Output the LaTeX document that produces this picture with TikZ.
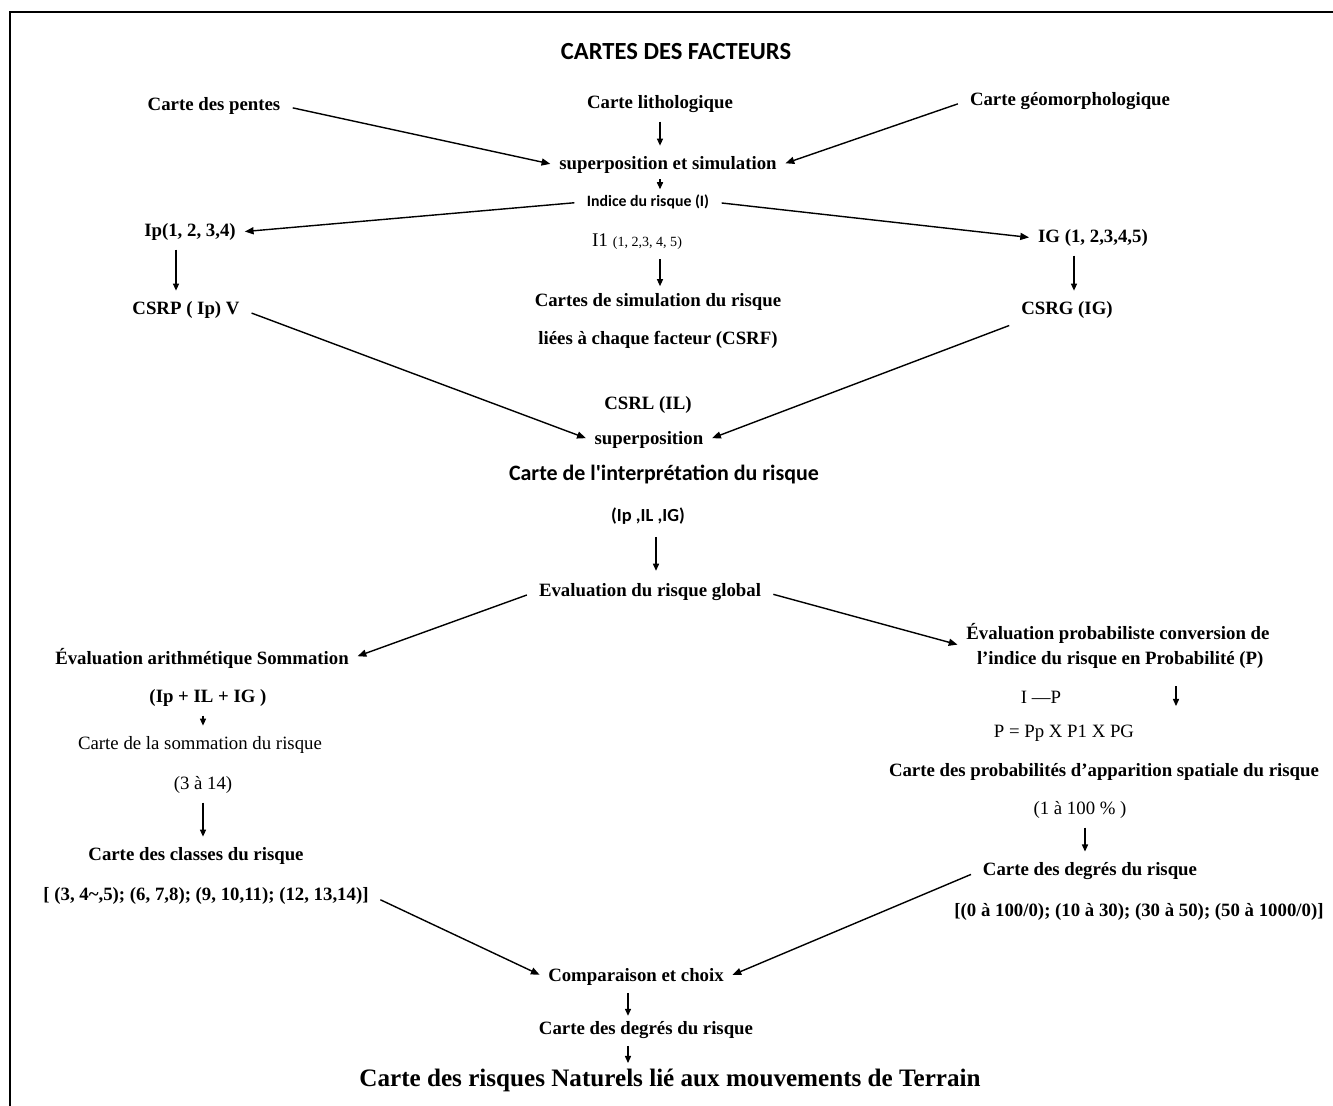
\documentclass[tikz,border=0pt]{standalone}
\usepackage{fontspec}
\setmainfont{Liberation Serif}
\newfontfamily\calib{Carlito}
\usetikzlibrary{arrows.meta}

\begin{document}
\begin{tikzpicture}[x=0.02cm, y=-0.02cm,
    lbl/.style={font=\fontsize{10.7}{13}\selectfont\bfseries, inner sep=2pt},
    rlbl/.style={font=\fontsize{10.7}{13}\selectfont, inner sep=2pt},
    slbl/.style={font=\calib\bfseries\fontsize{12.5}{15}\selectfont, inner sep=2pt},
    arr/.style={-{Triangle[length=5pt,width=4pt]}, line width=0.8pt, shorten <=5pt, shorten >=3pt},
    tarr/.style={-{Triangle[length=4pt,width=3.5pt]}, line width=0.6pt, shorten <=3pt, shorten >=4pt}]
        \useasboundingbox (0,0) rectangle (1333,1106);
        \draw [line width=1.6pt] (1340,12) -- (10,12) -- (10,1110);

        \node[slbl, font=\calib\bfseries\fontsize{14}{16}\selectfont] (titre) at (676,52) {CARTES DES FACTEURS};

        % cartes des facteurs
        \node[lbl] (pentes) at (214,106) {Carte des pentes};
        \node[lbl] (litho) at (660,104) {Carte lithologique};
        \node[lbl] (geomorph) at (1070,101) {Carte géomorphologique};
        \node[lbl] (superpos) at (668,165) {superposition et simulation};
        \node[slbl, font=\calib\bfseries\fontsize{9}{11}\selectfont] (indice) at (648,202) {Indice du risque (I)};

        \draw [arr] (pentes.east) -- (superpos.west);
        \draw [arr] (geomorph.west) -- (superpos.east);
        \draw [tarr] (litho.south) -- (superpos.north -| litho.south);
        \draw [tarr, shorten <=1pt, shorten >=1pt] (superpos.south -| litho.south) -- (indice.north -| litho.south);

        % indices par facteur
        \node[lbl] (ipnode) at (190,232) {Ip(1, 2, 3,4)};
        \node[lbl] (ignode) at (1093,238) {IG (1, 2,3,4,5)};
        \node[rlbl] (ione) at (637,242) {{\fontsize{11}{13}\selectfont I1} {\fontsize{8}{10}\selectfont (1, 2,3, 4, 5)}};
        \node[lbl, align=center, font=\fontsize{10.7}{21.6}\selectfont\bfseries] (csrf) at (658,321) {Cartes de simulation du risque\\liées à chaque facteur (CSRF)};

        \draw [arr] (indice.west) -- (ipnode.east);
        \draw [arr] (indice.east) -- (ignode.west);
        \draw [tarr, shorten >=2pt] (ione.south -| litho.south) -- (csrf.north -| litho.south);

        \node[lbl] (csrp) at (186,310) {CSRP ( Ip) V};
        \node[lbl] (csrg) at (1067,310) {CSRG (IG)};

        \draw [tarr] (ipnode.south -| 176,0) -- (csrp.north -| 176,0);
        \draw [tarr] (ignode.south -| 1074,0) -- (csrg.north -| 1074,0);

        % interpretation
        \node[lbl] (csrl) at (648,405) {CSRL (IL)};
        \node[lbl] (superpos2) at (649,440) {superposition};
        \node[slbl] (interp) at (664,474) {Carte de l'interprétation du risque};
        \node[slbl, font=\calib\bfseries\fontsize{10.5}{12}\selectfont] (iplg) at (648,516) {(Ip ,IL ,IG)};
        \node[lbl] (global) at (650,592) {Evaluation du risque global};

        \draw [arr] (csrp.east) -- (superpos2.west);
        \draw [arr] (csrg.south west) -- (superpos2.east);
        \draw [tarr, shorten <=5pt, shorten >=5pt] (iplg.south -| 656,0) -- (global.north -| 656,0);

        % evaluation arithmetique
        \node[lbl] (arith) at (202,658) {Évaluation arithmétique Sommation};
        \node[lbl] (somexpr) at (208,698) {(Ip + IL + IG )};
        \node[rlbl] (sommation) at (200,745) {Carte de la sommation du risque};
        \node[rlbl] (trois) at (203,785) {(3 à 14)};
        \node[lbl] (classes) at (196,856) {Carte des classes du risque};
        \node[lbl] (classrange) at (206,896) {[ (3, 4\textasciitilde,5); (6, 7,8); (9, 10,11); (12, 13,14)]};

        \draw [arr] (global.west) -- (arith.east);
        \draw [tarr] (somexpr.south -| 203,0) -- (sommation.north -| 203,0);
        \draw [tarr] (trois.south -| 203,0) -- (classes.north -| 203,0);

        % evaluation probabiliste
        \node[lbl, align=left] (proba) at (1118,646) {Évaluation probabiliste conversion de\\[1pt]\hspace*{6pt}l'indice du risque en Probabilité (P)};
        \node[rlbl] (ip2) at (1041,697) {I —P};
        \coordinate (pa) at (1176,686);
        \coordinate (pb) at (1176,706);
        \node[rlbl] (pform) at (1064,733) {P = Pp X P1 X PG};
        \node[lbl] (probmap) at (1104,772) {Carte des probabilités d'apparition spatiale du risque};
        \node[rlbl] (pct) at (1080,810) {(1 à 100 \% )};
        \node[lbl] (degres) at (1090,871) {Carte des degrés du risque};
        \node[lbl] (degrange) at (1139,912) {[(0 à 100/0); (10 à 30); (30 à 50); (50 à 1000/0)]};

        \draw [arr] (global.east) -- (proba.west);
        \draw [tarr, shorten <=0pt, shorten >=0pt] (pa) -- (pb);
        \draw [tarr] (pct.south -| 1085,0) -- (degres.north -| 1085,0);

        % comparaison
        \node[lbl] (comp) at (636,977) {Comparaison et choix};
        \node[lbl] (degres2) at (646,1030) {Carte des degrés du risque};
        \node[lbl, font=\fontsize{14.3}{17}\selectfont\bfseries] (final) at (670,1080) {Carte des risques Naturels lié aux mouvements de Terrain};

        \draw [arr] (classrange.east) -- (comp.west);
        \draw [arr] (degres.west) -- (comp.east);
        \draw [tarr, shorten <=2pt, shorten >=1pt] (comp.south -| 628,0) -- (degres2.north -| 628,0);
        \draw [tarr, shorten <=2pt, shorten >=1pt] (degres2.south -| 628,0) -- (final.north -| 628,0);
    \end{tikzpicture}
\end{document}
